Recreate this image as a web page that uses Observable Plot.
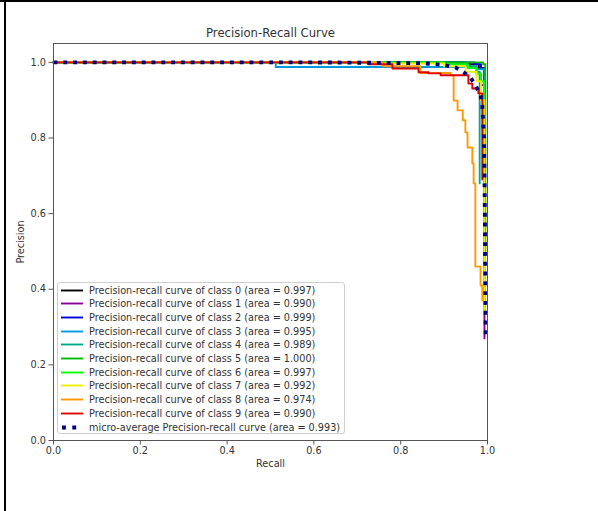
<!DOCTYPE html>
<html>
<head>
<meta charset="utf-8">
<script src="https://cdn.jsdelivr.net/npm/d3@7"></script>
<script src="https://cdn.jsdelivr.net/npm/@observablehq/plot@0.6"></script>
<style>
  html, body { margin: 0; padding: 0; background: #fff; }
  #wrap { position: relative; width: 598px; height: 511px; overflow: hidden; font-family: "DejaVu Sans", sans-serif; }
  #wrap > svg { position: absolute; left: 0; top: 0; }
  .bar { position: absolute; background: #000; }
  #legend { position: absolute; left: 57px; top: 282px; width: 288px; height: 152px; box-sizing: border-box;
            border: 1px solid #cfcfcf; border-radius: 3px; background: rgba(255,255,255,0.85);
            font-family: "DejaVu Sans", sans-serif; font-size: 9.7px; color: #333; }
  .row { position: absolute; left: 0; height: 13px; line-height: 13px; white-space: nowrap; }
  .row svg { position: absolute; left: 3px; top: 2px; }
  .row span { position: absolute; left: 31px; top: 0; }
</style>
</head>
<body>
<div id="wrap"></div>
<script>
// ---- data ----
const classNames = ["0", "1", "2", "3", "4", "5", "6", "7", "8", "9"];
const classAreas = ["0.997", "0.990", "0.999", "0.995", "0.989", "1.000", "0.997", "0.992", "0.974", "0.990"];
const classColors = ["#000000", "#880099", "#0000dd", "#0099dd", "#00aa88", "#00bb00", "#00ff00", "#eeee00", "#ff9900", "#dd0000"];
const microArea = "0.993";

// step vertices [recall, precision] for each class (step-after)
const class0 = [[0, 1], [0.95, 0.995], [0.98, 0.985], [0.993, 0.6]];
const class1 = [[0, 1], [0.93, 0.995], [0.96, 0.985], [0.975, 0.97], [0.985, 0.94], [0.993, 0.27]];
const class2 = [[0, 1], [0.97, 0.995], [0.985, 0.985], [0.993, 0.65]];
const class3 = [[0, 1], [0.512, 0.988], [0.975, 0.982], [0.994, 0.72]];
const class4 = [[0, 1], [0.95, 0.99], [0.975, 0.975], [0.982, 0.68]];
const class5 = [[0, 1], [0.99, 0.995], [0.995, 0.49]];
const class6 = [[0, 1], [0.9, 0.995], [0.955, 0.985], [0.975, 0.97], [0.985, 0.95], [0.992, 0.45]];
const class7 = [[0, 1], [0.74, 0.997], [0.9, 0.99], [0.95, 0.975], [0.975, 0.95], [0.985, 0.9], [0.993, 0.34]];
const class8 = [[0, 1], [0.76, 0.99], [0.845, 0.972], [0.915, 0.966], [0.922, 0.899], [0.931, 0.873], [0.943, 0.847],
                [0.949, 0.815], [0.954, 0.775], [0.965, 0.733], [0.968, 0.68], [0.972, 0.46], [0.984, 0.41], [0.988, 0.37]];
const class9 = [[0, 1], [0.726, 0.995], [0.781, 0.984], [0.841, 0.974], [0.864, 0.971], [0.892, 0.966],
                [0.956, 0.944], [0.965, 0.931], [0.979, 0.918], [0.988, 0.69]];
const microAvg = [[0, 1], [0.6, 1], [0.85, 0.998], [0.9, 0.993], [0.926, 0.987], [0.945, 0.974], [0.961, 0.96],
                  [0.972, 0.939], [0.984, 0.913], [0.988, 0.886], [0.992, 0.8], [0.994, 0.6], [0.995, 0.4], [0.996, 0.27]];

const xTicks = [0, 0.2, 0.4, 0.6, 0.8, 1.0];
const yTicks = [0, 0.2, 0.4, 0.6, 0.8, 1.0];
const titleText = "Precision-Recall Curve";
const xLabel = "Recall";
const yLabel = "Precision";

// ---- chart ----
const classCurves = [class0, class1, class2, class3, class4, class5, class6, class7, class8, class9];
const fmt = d3.format(".1f");

const chart = Plot.plot({
  width: 598,
  height: 511,
  marginLeft: 53,
  marginRight: 111,
  marginTop: 43,
  marginBottom: 71,
  x: { domain: [0, 1] },
  y: { domain: [0, 1.05] },
  style: { fontFamily: "DejaVu Sans, sans-serif", fontSize: "9.7px", color: "#333", background: "transparent", overflow: "visible" },
  marks: [
    ...classCurves.map((pts, i) => Plot.line(pts, {
      x: d => d[0], y: d => d[1], curve: "step-after",
      stroke: classColors[i], strokeWidth: 1.9, strokeLinejoin: "round"
    })),
    Plot.line(microAvg, {
      x: d => d[0], y: d => d[1], curve: "linear",
      stroke: "#000080", strokeWidth: 3.9, strokeDasharray: "3.9,5.9", strokeLinecap: "butt"
    }),
    Plot.frame({ stroke: "#555", strokeWidth: 1 }),
    Plot.axisX({ ticks: xTicks, tickFormat: fmt, tickSize: 4.5, tickPadding: 2, label: null, stroke: "#555" }),
    Plot.axisY({ ticks: yTicks, tickFormat: fmt, tickSize: 4.5, tickPadding: 3, label: null, stroke: "#555" }),
    Plot.text([titleText], { frameAnchor: "top", lineAnchor: "middle", dy: -10, fontSize: 11.65, fill: "#333" }),
    Plot.text([xLabel], { frameAnchor: "bottom", lineAnchor: "middle", dy: 23, fill: "#333" }),
    Plot.text([yLabel], { frameAnchor: "left", textAnchor: "middle", lineAnchor: "middle", dx: -33, rotate: -90, fill: "#333" })
  ]
});

const wrap = document.getElementById("wrap");
wrap.appendChild(chart);

// page borders seen in the picture
const topBar = document.createElement("div");
topBar.className = "bar"; topBar.style.cssText = "left:0;top:0;width:598px;height:2px;";
const leftBar = document.createElement("div");
leftBar.className = "bar"; leftBar.style.cssText = "left:4px;top:0;width:2px;height:511px;";
wrap.appendChild(topBar); wrap.appendChild(leftBar);

// legend
const legendBox = document.createElement("div");
legendBox.id = "legend";
const entries = classNames.map((c, i) => ({
  label: `Precision-recall curve of class ${c} (area = ${classAreas[i]})`,
  color: classColors[i], micro: false
}));
entries.push({ label: `micro-average Precision-recall curve (area = ${microArea})`, color: "#000080", micro: true });
entries.forEach((e, i) => {
  const row = document.createElement("div");
  row.className = "row";
  row.style.top = (7 + 13.7 * i - 6.5) + "px";
  const sw = e.micro
    ? `<svg width="22" height="9"><line x1="1" x2="20" y1="4.5" y2="4.5" stroke="${e.color}" stroke-width="3.9" stroke-dasharray="3.9,6.4"/></svg>`
    : `<svg width="22" height="9"><line x1="0" x2="22" y1="4.5" y2="4.5" stroke="${e.color}" stroke-width="1.9"/></svg>`;
  row.innerHTML = sw + `<span>${e.label}</span>`;
  legendBox.appendChild(row);
});
wrap.appendChild(legendBox);
</script>
</body>
</html>
